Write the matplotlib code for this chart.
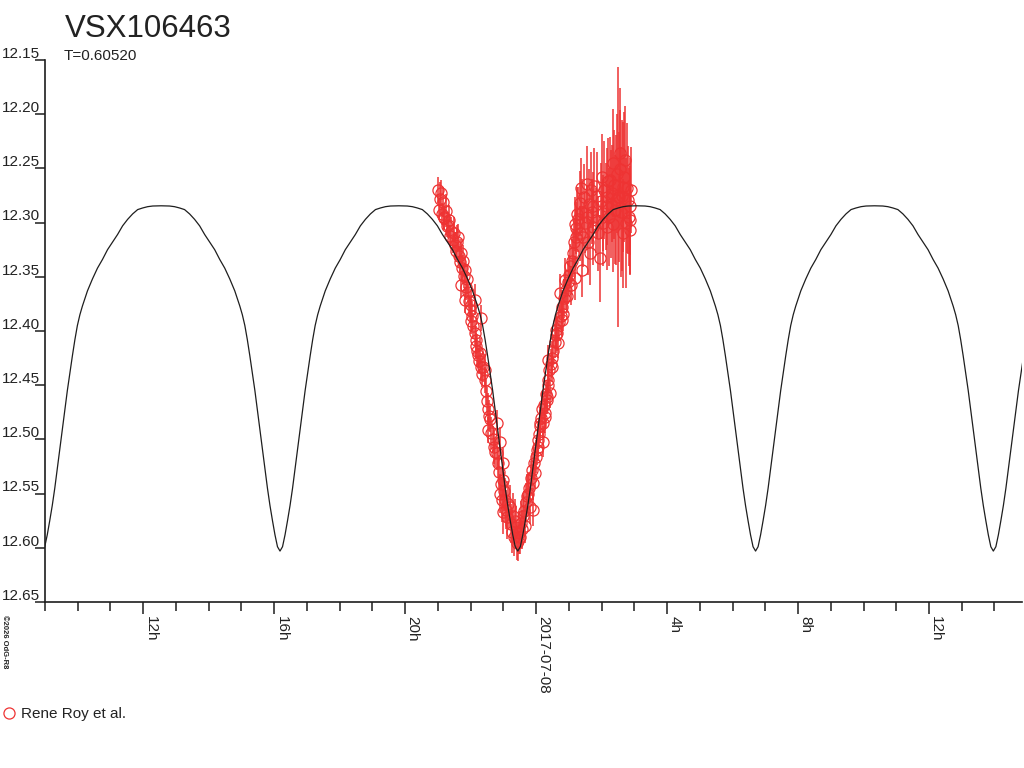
import matplotlib
matplotlib.use('Agg')
import matplotlib.pyplot as plt
import matplotlib.transforms as mtransforms
from matplotlib.lines import Line2D
import numpy as np

plt.rcParams['font.family'] = ['Liberation Sans', 'DejaVu Sans']

# ---------------- data ----------------
title = "VSX106463"
period_label = "T=0.60520"
period_days = 0.60520
series_label = "Rene Roy et al."
copyright_text = "\u00a92026 OdG-R8"

# model light curve: one half-cycle, phase 0 = minimum
t_min_hours = 23.44          # time of a minimum, hours after 2017-07-07 00:00
model_phase = [0.0000, 0.0053, 0.0106, 0.0158, 0.0211, 0.0264, 0.0317, 0.0370,
               0.0422, 0.0475, 0.0528, 0.0581, 0.0634, 0.0687, 0.0739, 0.0792,
               0.0845, 0.0951, 0.1056, 0.1162, 0.1267, 0.1373, 0.1479, 0.1584,
               0.1690, 0.1796, 0.1901, 0.2007, 0.2112, 0.2218, 0.2324, 0.2500,
               0.2676, 0.2782, 0.2888, 0.2993, 0.3099, 0.3204, 0.3310, 0.3416,
               0.3521, 0.3627, 0.3733, 0.3838, 0.3944, 0.4049, 0.4155, 0.4208,
               0.4261, 0.4313, 0.4366, 0.4419, 0.4472, 0.4525, 0.4578, 0.4630,
               0.4683, 0.4736, 0.4789, 0.4842, 0.4894, 0.4947, 0.5000]
model_mag = [12.603, 12.599, 12.588, 12.575, 12.561, 12.545, 12.527, 12.509,
             12.491, 12.473, 12.455, 12.439, 12.423, 12.408, 12.395, 12.385,
             12.377, 12.363, 12.352, 12.342, 12.334, 12.325, 12.318, 12.311,
             12.303, 12.297, 12.292, 12.288, 12.2865, 12.2853, 12.2847, 12.2845,
             12.2847, 12.2853, 12.2865, 12.288, 12.292, 12.297, 12.303, 12.311,
             12.318, 12.325, 12.334, 12.342, 12.352, 12.363, 12.377, 12.385,
             12.395, 12.408, 12.423, 12.439, 12.455, 12.473, 12.491, 12.509,
             12.527, 12.545, 12.561, 12.575, 12.588, 12.599, 12.603]

# observations: hours after 2017-07-07 00:00, magnitude, error
obs_time = [
    21.00, 21.02, 21.05, 21.10, 21.12, 21.15, 21.18, 21.20, 21.24, 21.27,
    21.31, 21.34, 21.38, 21.41, 21.45, 21.48, 21.51, 21.55, 21.58, 21.61,
    21.64, 21.68, 21.71, 21.72, 21.74, 21.76, 21.79, 21.82, 21.82, 21.86,
    21.88, 21.91, 21.94, 21.97, 22.00, 22.02, 22.05, 22.08, 22.12, 22.12,
    22.15, 22.17, 22.20, 22.22, 22.25, 22.28, 22.32, 22.32, 22.35, 22.38,
    22.43, 22.43, 22.46, 22.49, 22.52, 22.54, 22.57, 22.59, 22.63, 22.67,
    22.71, 22.75, 22.79, 22.79, 22.83, 22.86, 22.89, 22.89, 22.92, 22.95,
    22.99, 22.99, 22.99, 23.02, 23.05, 23.08, 23.12, 23.15, 23.20, 23.22,
    23.26, 23.30, 23.33, 23.37, 23.40, 23.43, 23.45, 23.48, 23.50, 23.53,
    23.57, 23.60, 23.63, 23.66, 23.70, 23.73, 23.76, 23.79, 23.81, 23.85,
    23.88, 23.91, 23.91, 23.94, 23.98, 24.01, 24.04, 24.06, 24.06, 24.09,
    24.11, 24.11, 24.15, 24.19, 24.22, 24.22, 24.25, 24.27, 24.27, 24.30,
    24.32, 24.32, 24.35, 24.37, 24.37, 24.40, 24.42, 24.45, 24.47, 24.50,
    24.52, 24.57, 24.60, 24.62, 24.65, 24.67, 24.70, 24.73, 24.75, 24.78,
    24.80, 24.83, 24.86, 24.88, 24.91, 24.93, 24.97, 25.01, 25.05, 25.08,
    25.10, 25.13, 25.16, 25.18, 25.18, 25.21, 25.23, 25.26, 25.29, 25.34,
    25.34, 25.37, 25.39, 25.41, 25.44, 25.47, 25.50, 25.54, 25.54, 25.57,
    25.60, 25.64, 25.67, 25.70, 25.74, 25.74, 25.78, 25.82, 25.86, 25.90,
    25.95, 25.98, 26.00, 26.03, 26.05, 26.08, 26.12, 26.15, 26.15, 26.19,
    26.22, 26.25, 26.28, 26.32, 26.35, 26.35, 26.39, 26.42, 26.45, 26.48,
    26.50, 26.52, 26.56, 26.56, 26.60, 26.63, 26.66, 26.66, 26.69, 26.71,
    26.74, 26.78, 26.81, 26.84, 26.86, 26.86, 26.86, 26.89]
obs_mag = [
    12.270, 12.288, 12.278, 12.273, 12.292, 12.281, 12.296, 12.295, 12.289, 12.303,
    12.302, 12.298, 12.312, 12.308, 12.316, 12.310, 12.321, 12.326, 12.318, 12.313,
    12.331, 12.336, 12.328, 12.358, 12.342, 12.335, 12.349, 12.344, 12.371, 12.359,
    12.352, 12.364, 12.372, 12.381, 12.376, 12.391, 12.386, 12.395, 12.371, 12.402,
    12.408, 12.414, 12.418, 12.422, 12.428, 12.420, 12.388, 12.433, 12.440, 12.433,
    12.445, 12.436, 12.455, 12.465, 12.472, 12.491, 12.478, 12.481, 12.494, 12.500,
    12.507, 12.512, 12.485, 12.513, 12.522, 12.530, 12.502, 12.550, 12.541, 12.556,
    12.522, 12.537, 12.567, 12.548, 12.556, 12.565, 12.572, 12.560, 12.562, 12.578,
    12.585, 12.571, 12.590, 12.575, 12.581, 12.596, 12.594, 12.586, 12.590, 12.577,
    12.583, 12.571, 12.566, 12.580, 12.558, 12.552, 12.550, 12.545, 12.562, 12.536,
    12.528, 12.565, 12.540, 12.522, 12.531, 12.516, 12.510, 12.501, 12.507, 12.495,
    12.488, 12.485, 12.480, 12.472, 12.485, 12.502, 12.468, 12.476, 12.479, 12.458,
    12.461, 12.464, 12.450, 12.445, 12.427, 12.436, 12.457, 12.430, 12.433, 12.425,
    12.418, 12.410, 12.404, 12.399, 12.402, 12.411, 12.392, 12.365, 12.386, 12.390,
    12.378, 12.384, 12.370, 12.353, 12.362, 12.368, 12.355, 12.348, 12.340, 12.358,
    12.335, 12.328, 12.318, 12.301, 12.351, 12.305, 12.313, 12.292, 12.297, 12.282,
    12.310, 12.268, 12.344, 12.290, 12.313, 12.276, 12.300, 12.295, 12.264, 12.318,
    12.283, 12.328, 12.270, 12.290, 12.285, 12.304, 12.266, 12.298, 12.275, 12.310,
    12.333, 12.280, 12.258, 12.300, 12.291, 12.270, 12.285, 12.276, 12.304, 12.262,
    12.295, 12.261, 12.283, 12.273, 12.245, 12.301, 12.265, 12.288, 12.279, 12.255,
    12.276, 12.276, 12.236, 12.251, 12.290, 12.275, 12.267, 12.310, 12.258, 12.242,
    12.300, 12.268, 12.279, 12.295, 12.298, 12.307, 12.285, 12.270]
obs_err = [
    0.012, 0.010, 0.015, 0.012, 0.010, 0.014, 0.010, 0.012, 0.015, 0.010,
    0.012, 0.014, 0.010, 0.013, 0.012, 0.015, 0.012, 0.010, 0.016, 0.012,
    0.011, 0.012, 0.013, 0.012, 0.012, 0.014, 0.011, 0.012, 0.012, 0.012,
    0.014, 0.012, 0.013, 0.012, 0.015, 0.012, 0.014, 0.012, 0.014, 0.012,
    0.013, 0.012, 0.015, 0.012, 0.012, 0.014, 0.012, 0.013, 0.012, 0.014,
    0.012, 0.015, 0.012, 0.013, 0.015, 0.012, 0.014, 0.012, 0.015, 0.012,
    0.016, 0.013, 0.012, 0.015, 0.014, 0.016, 0.013, 0.018, 0.015, 0.020,
    0.014, 0.016, 0.020, 0.018, 0.020, 0.018, 0.020, 0.022, 0.020, 0.018,
    0.020, 0.022, 0.018, 0.020, 0.020, 0.015, 0.018, 0.020, 0.016, 0.020,
    0.018, 0.020, 0.018, 0.016, 0.018, 0.020, 0.018, 0.015, 0.016, 0.016,
    0.015, 0.015, 0.016, 0.015, 0.014, 0.015, 0.014, 0.015, 0.013, 0.014,
    0.015, 0.013, 0.014, 0.015, 0.013, 0.014, 0.013, 0.014, 0.015, 0.013,
    0.014, 0.013, 0.014, 0.013, 0.014, 0.015, 0.014, 0.013, 0.014, 0.016,
    0.014, 0.015, 0.016, 0.015, 0.016, 0.014, 0.016, 0.018, 0.015, 0.015,
    0.016, 0.016, 0.018, 0.020, 0.018, 0.015, 0.020, 0.018, 0.020, 0.018,
    0.020, 0.022, 0.022, 0.025, 0.020, 0.024, 0.025, 0.025, 0.030, 0.030,
    0.025, 0.028, 0.025, 0.030, 0.028, 0.030, 0.028, 0.030, 0.035, 0.030,
    0.032, 0.030, 0.035, 0.030, 0.032, 0.035, 0.035, 0.030, 0.040, 0.035,
    0.040, 0.035, 0.040, 0.040, 0.035, 0.045, 0.040, 0.045, 0.040, 0.040,
    0.045, 0.040, 0.050, 0.045, 0.050, 0.045, 0.050, 0.050, 0.060, 0.055,
    0.120, 0.060, 0.060, 0.055, 0.060, 0.070, 0.060, 0.050, 0.060, 0.050,
    0.060, 0.060, 0.050, 0.045, 0.050, 0.040, 0.045, 0.040]

# axis ticks
y_ticks = [12.15, 12.20, 12.25, 12.30, 12.35, 12.40, 12.45, 12.50, 12.55, 12.60, 12.65]
x_major = [12, 16, 20, 24, 28, 32, 36]
x_major_labels = ["12h", "16h", "20h", "2017-07-08", "4h", "8h", "12h"]
x_minor = list(range(9, 39))

# ---------------- figure ----------------
W, H = 1024, 768
fig = plt.figure(figsize=(W / 100, H / 100), dpi=100)
ax_left, ax_right, ax_top, ax_bottom = 45, 1022, 60, 602
ax = fig.add_axes([ax_left / W, 1 - ax_bottom / H,
                   (ax_right - ax_left) / W, (ax_bottom - ax_top) / H])
ax.set_xlim(9.0, 38.84)
ax.set_ylim(12.65, 12.15)

red = '#ee3333'
dark = '#1e1e1e'

# model curve tiled over the visible cycles (two equal minima per period)
P = period_days * 24.0
ph = np.array(model_phase)
mm = np.array(model_mag)
tt, mg = [], []
for k in range(-4, 5):
    tt.append(t_min_hours + (k * 0.5 + ph) * P)
    mg.append(mm)
tt = np.concatenate(tt)
mg = np.concatenate(mg)

ax.errorbar(obs_time, obs_mag, yerr=obs_err, fmt='none', ecolor=red,
            elinewidth=1.1, capsize=0, zorder=1)
ax.plot(obs_time, obs_mag, 'o', ms=8, mfc='none', mec=red, mew=0.9,
        linestyle='none', zorder=2)
ax.plot(tt, mg, color=dark, lw=0.9, zorder=3)

# spines
for s in ['top', 'right']:
    ax.spines[s].set_visible(False)
for s in ['left', 'bottom']:
    ax.spines[s].set_color(dark)
    ax.spines[s].set_linewidth(1.2)

# y ticks with labels above tick marks
ax.set_yticks(y_ticks)
ax.tick_params(axis='y', direction='out', length=7.2, width=1.1,
               color=dark, labelleft=False)
ytrans = mtransforms.blended_transform_factory(fig.transFigure, ax.transData)
for v in y_ticks:
    ax.annotate(f"{v:.2f}", xy=(0, v), xycoords=ytrans, xytext=(1.2, 1.6),
                textcoords='offset points', ha='left', va='baseline',
                fontsize=11, color='#222222', annotation_clip=False)

# x ticks
ax.set_xticks(x_major)
ax.set_xticks(x_minor, minor=True)
ax.tick_params(axis='x', which='major', direction='out', length=8.6,
               width=1.1, color=dark, labelbottom=False)
ax.tick_params(axis='x', which='minor', direction='out', length=6.5,
               width=1.1, color=dark)
xtrans = mtransforms.blended_transform_factory(ax.transData, ax.transAxes)
for v, lab in zip(x_major, x_major_labels):
    ax.annotate(lab, xy=(v, 0), xycoords=xtrans, xytext=(0.2, -10),
                textcoords='offset points', rotation=-90, ha='left', va='top',
                fontsize=11, color='#222222', annotation_clip=False)

# titles
fig.text(65 / W, 1 - 37 / H, title, fontsize=22.5, ha='left', va='baseline',
         color='#222222')
fig.text(64 / W, 1 - 59.5 / H, period_label, fontsize=11, ha='left',
         va='baseline', color='#222222')

# copyright
fig.text(0.5 / W, 1 - 615 / H, copyright_text, rotation=-90, fontsize=5.5,
         fontweight='bold', ha='left', va='top', color='#222222')

# legend
fig.add_artist(Line2D([9.3 / W], [1 - 713.3 / H], marker='o', ms=8, mfc='none',
                      mec=red, mew=0.9, linestyle='none',
                      transform=fig.transFigure))
fig.text(21 / W, 1 - 718 / H, series_label, fontsize=11, ha='left',
         va='baseline', color='#222222')

fig.savefig('out.png', dpi=100)
